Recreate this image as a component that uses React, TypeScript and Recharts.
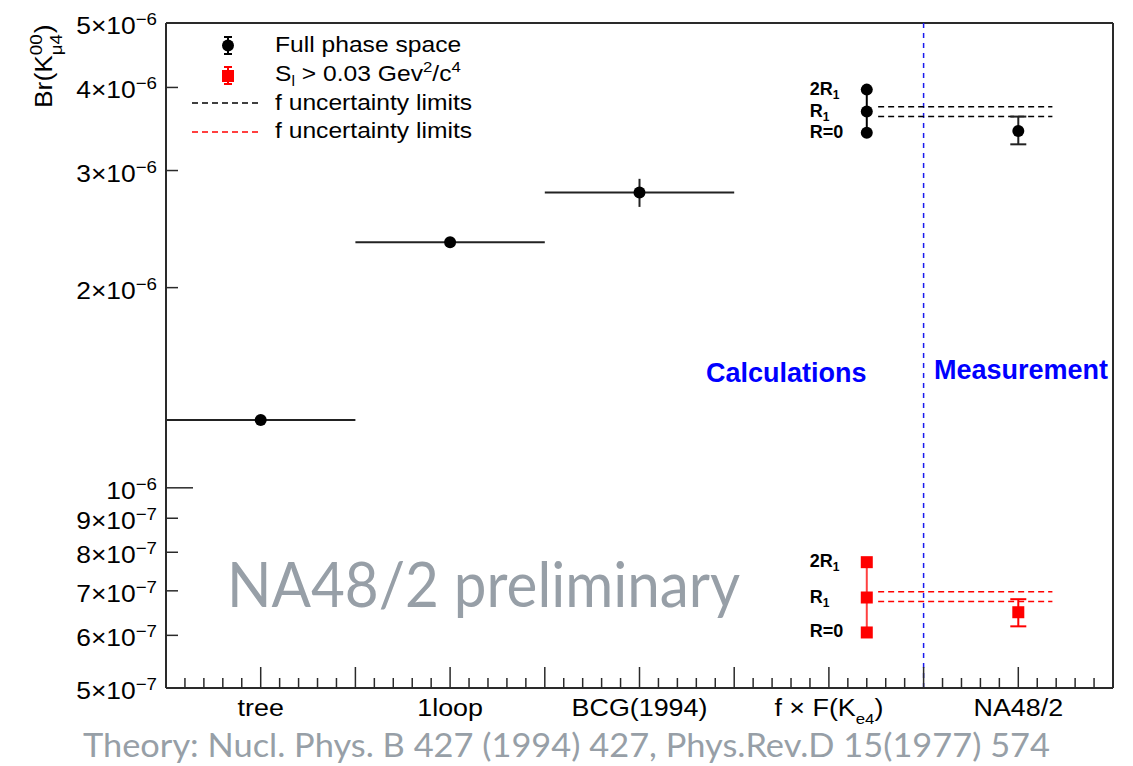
import React from "react";
import { ComposedChart, Scatter, XAxis, YAxis, ErrorBar, ReferenceLine } from "recharts";

// categories along the x axis (bin centres)
const categoryX = [0.5, 1.5, 2.5, 3.5, 4.5];
const categoryNames = ["tree", "1loop", "BCG(1994)", "f \u00d7 F(K", "NA48/2"];
const categorySubs = ["", "", "", "e4", ""];
const categoryTails = ["", "", "", ")", ""];

// theory calculations, full phase space
const theoryPoints = [
  { x: 0.5, y: 1.265e-6, ex: 0.5, ey: 0 },
  { x: 1.5, y: 2.34e-6, ex: 0.5, ey: 0 },
  { x: 2.5, y: 2.78e-6, ex: 0.5, ey: 0.135e-6 },
];

// f x F(Ke4) for three R values
const fullPhaseF = [
  { x: 3.7, y: 3.97e-6, label: "2R", sub: "1" },
  { x: 3.7, y: 3.68e-6, label: "R", sub: "1" },
  { x: 3.7, y: 3.42e-6, label: "R=0", sub: "" },
];
const cutF = [
  { x: 3.7, y: 7.73e-7, label: "2R", sub: "1" },
  { x: 3.7, y: 6.84e-7, label: "R", sub: "1" },
  { x: 3.7, y: 6.06e-7, label: "R=0", sub: "" },
];

// NA48/2 measurement
const fullPhaseMeas = [{ x: 4.5, y: 3.44e-6, ey: [0.155e-6, 0.176e-6] }];
const cutMeas = [{ x: 4.5, y: 6.5e-7, ey: [0.31e-7, 0.3e-7] }];

// f uncertainty limits
const fullPhaseLimits = [3.742e-6, 3.616e-6];
const cutLimits = [6.98e-7, 6.745e-7];
const limitFrom = 3.76;
const limitTo = 4.68;
const splitX = 4;

const yTicks = [5e-7, 6e-7, 7e-7, 8e-7, 9e-7, 1e-6, 2e-6, 3e-6, 4e-6, 5e-6];
const yTickMantissa = ["5\u00d7", "6\u00d7", "7\u00d7", "8\u00d7", "9\u00d7", "", "2\u00d7", "3\u00d7", "4\u00d7", "5\u00d7"];
const yTickExponent = ["\u22127", "\u22127", "\u22127", "\u22127", "\u22127", "\u22126", "\u22126", "\u22126", "\u22126", "\u22126"];

const xTicks: number[] = [];
for (let i = 1; i < 50; i++) xTicks.push(i / 10);

const rootFont = "'Liberation Sans', Arial, Helvetica, sans-serif";
const grayFont = "Lato, 'Open Sans', sans-serif";
const gray = "#979fa7";
const frame = "#2a2a2a";

const Stretch = ({ x, y, s = 1.12, children }: any) => (
  <g transform={`translate(${x},${y}) scale(${s},1)`}>{children}</g>
);

const XTick = (props: any) => {
  const { x, y, payload } = props;
  const v = payload.value;
  const major = Math.abs(v * 2 - Math.round(v * 2)) < 1e-6;
  const idx = categoryX.findIndex((c) => Math.abs(c - v) < 1e-6);
  return (
    <g>
      <line x1={x} x2={x} y1={y} y2={y - (major ? 21 : 10)} stroke={frame} strokeWidth={1.5} />
      {idx >= 0 && (
        <Stretch x={x} y={y + 28}>
          <text x={0} y={0} textAnchor="middle" fontSize={24} fontFamily={rootFont} fill="#000">
            {categoryNames[idx]}
            {categorySubs[idx] && (
              <tspan dy={8} fontSize={15}>
                {categorySubs[idx]}
              </tspan>
            )}
            {categoryTails[idx] && (
              <tspan dy={-8} fontSize={24}>
                {categoryTails[idx]}
              </tspan>
            )}
          </text>
        </Stretch>
      )}
    </g>
  );
};

const YTick = (props: any) => {
  const { x, y, payload } = props;
  const i = yTicks.findIndex((t) => Math.abs(t - payload.value) / t < 1e-6);
  const len = payload.value === 1e-6 ? 27 : 12;
  const edge = i === 0 || i === yTicks.length - 1;
  return (
    <g>
      {!edge && <line x1={x} x2={x + len} y1={y} y2={y} stroke={frame} strokeWidth={1.5} />}
      <Stretch x={x - 9} y={y + 11} s={1.1}>
        <text x={0} y={0} textAnchor="end" fontSize={24} fontFamily={rootFont} fill="#000">
          {i >= 0 ? yTickMantissa[i] : ""}10
          <tspan dy={-9} fontSize={17}>
            {i >= 0 ? yTickExponent[i] : ""}
          </tspan>
        </text>
      </Stretch>
    </g>
  );
};

const circleShape = (p: any) => <circle cx={p.cx} cy={p.cy} r={6} fill="#000" />;
const squareShape = (p: any) => <rect x={p.cx - 6} y={p.cy - 6} width={12} height={12} fill="#ff0000" />;

const labelled = (base: (p: any) => any) => (p: any) => (
  <g>
    {base(p)}
    <text x={p.cx - 57} y={p.cy + 5} fontSize={18} fontWeight="bold" fontFamily={rootFont} fill="#000">
      {p.payload.label}
      {p.payload.sub && (
        <tspan dy={4} fontSize={12}>
          {p.payload.sub}
        </tspan>
      )}
    </text>
  </g>
);

const Overlay = () => (
  <svg
    width={1133}
    height={766}
    style={{ position: "absolute", left: 0, top: 0, pointerEvents: "none" }}
  >
    {/* y axis title */}
    <g transform="translate(52,108) rotate(-90) scale(1.1,1)">
      <text x={0} y={0} fontSize={24} fontFamily={rootFont} fill="#000">Br(K</text>
      <text x={48} y={-10} fontSize={17} fontFamily={rootFont} fill="#000">00</text>
      <text x={48} y={10} fontSize={17} fontFamily={rootFont} fill="#000">{"\u03bc4"}</text>
      <text x={68} y={0} fontSize={24} fontFamily={rootFont} fill="#000">)</text>
    </g>

    {/* legend */}
    <line x1={228} x2={228} y1={37} y2={54} stroke="#000" strokeWidth={2} />
    <line x1={224} x2={232} y1={37} y2={37} stroke="#000" strokeWidth={2} />
    <line x1={224} x2={232} y1={54} y2={54} stroke="#000" strokeWidth={2} />
    <circle cx={228} cy={45.5} r={6} fill="#000" />
    <line x1={228} x2={228} y1={67} y2={84} stroke="#ff0000" strokeWidth={2} />
    <line x1={224} x2={232} y1={67} y2={67} stroke="#ff0000" strokeWidth={2} />
    <line x1={224} x2={232} y1={84} y2={84} stroke="#ff0000" strokeWidth={2} />
    <rect x={222} y={70} width={12} height={12} fill="#ff0000" />
    <line x1={192} x2={258} y1={103} y2={103} stroke="#000" strokeWidth={1.5} strokeDasharray="6 4" />
    <line x1={192} x2={258} y1={132} y2={132} stroke="#ff0000" strokeWidth={1.5} strokeDasharray="6 4" />
    <Stretch x={275} y={52}>
      <text fontSize={22} fontFamily={rootFont} fill="#000">Full phase space</text>
    </Stretch>
    <Stretch x={275} y={81}>
      <text fontSize={22} fontFamily={rootFont} fill="#000">
        S<tspan dy={5} fontSize={14}>l</tspan>
        <tspan dy={-5}> {"> 0.03 Gev"}</tspan>
        <tspan dy={-9} fontSize={15}>2</tspan>
        <tspan dy={9}>/c</tspan>
        <tspan dy={-9} fontSize={15}>4</tspan>
      </text>
    </Stretch>
    <Stretch x={275} y={110}>
      <text fontSize={22} fontFamily={rootFont} fill="#000">f uncertainty limits</text>
    </Stretch>
    <Stretch x={275} y={138}>
      <text fontSize={22} fontFamily={rootFont} fill="#000">f uncertainty limits</text>
    </Stretch>

    {/* region captions */}
    <text x={706} y={382} fontSize={27} fontWeight="bold" fontFamily={rootFont} fill="#0000ff">
      Calculations
    </text>
    <text x={934} y={379} fontSize={27} fontWeight="bold" fontFamily={rootFont} fill="#0000ff">
      Measurement
    </text>

    {/* watermark and reference */}
    <text x={227} y={607} fontSize={62} fontFamily={grayFont} fill={gray} textLength={513} lengthAdjust="spacingAndGlyphs">
      NA48/2 preliminary
    </text>
    <text x={83} y={757} fontSize={33} fontFamily={grayFont} fill={gray} textLength={967} lengthAdjust="spacingAndGlyphs">
      Theory: Nucl. Phys. B 427 (1994) 427, Phys.Rev.D 15(1977) 574
    </text>
  </svg>
);

export default function App() {
  return (
    <div style={{ position: "relative", width: 1133, height: 766, background: "#fff" }}>
      <style>{`body{margin:0;overflow:hidden}`}</style>
      <ComposedChart width={1133} height={766} margin={{ top: 23, right: 20, left: 8, bottom: 8 }}>
        <XAxis
          dataKey="x"
          type="number"
          domain={[0, 5]}
          ticks={xTicks}
          interval={0}
          tickSize={0}
          tickMargin={0}
          tickLine={false}
          height={70}
          axisLine={{ stroke: frame, strokeWidth: 2 }}
          tick={(p: any) => <XTick {...p} />}
          allowDataOverflow
        />
        <YAxis
          dataKey="y"
          type="number"
          scale="log"
          domain={[5e-7, 5e-6]}
          ticks={yTicks}
          interval={0}
          tickSize={0}
          tickMargin={0}
          tickLine={false}
          width={158}
          axisLine={{ stroke: frame, strokeWidth: 2 }}
          tick={(p: any) => <YTick {...p} />}
          allowDataOverflow
        />
        <ReferenceLine x={5} stroke={frame} strokeWidth={2} />
        <ReferenceLine y={5e-6} stroke={frame} strokeWidth={2} />
        <ReferenceLine x={splitX} stroke="#1a1aee" strokeWidth={1.5} strokeDasharray="5 5" />
        {fullPhaseLimits.map((v) => (
          <ReferenceLine
            key={"b" + v}
            segment={[{ x: limitFrom, y: v }, { x: limitTo, y: v }]}
            stroke="#000"
            strokeWidth={1.5}
            strokeDasharray="6 4"
          />
        ))}
        {cutLimits.map((v) => (
          <ReferenceLine
            key={"r" + v}
            segment={[{ x: limitFrom, y: v }, { x: limitTo, y: v }]}
            stroke="#ff0000"
            strokeWidth={1.5}
            strokeDasharray="6 4"
          />
        ))}
        <Scatter data={theoryPoints} shape={circleShape} isAnimationActive={false}>
          <ErrorBar dataKey="ex" direction="x" width={0} stroke="#222" strokeWidth={2} />
          <ErrorBar dataKey="ey" direction="y" width={0} stroke="#222" strokeWidth={2} />
        </Scatter>
        <Scatter
          data={fullPhaseF}
          shape={labelled(circleShape)}
          line={{ stroke: "#000", strokeWidth: 2 }}
          isAnimationActive={false}
        />
        <Scatter
          data={cutF}
          shape={labelled(squareShape)}
          line={{ stroke: "#ff4040", strokeWidth: 2 }}
          isAnimationActive={false}
        />
        <Scatter data={fullPhaseMeas} shape={circleShape} isAnimationActive={false}>
          <ErrorBar dataKey="ey" direction="y" width={8} stroke="#222" strokeWidth={2} />
        </Scatter>
        <Scatter data={cutMeas} shape={squareShape} isAnimationActive={false}>
          <ErrorBar dataKey="ey" direction="y" width={8} stroke="#ff0000" strokeWidth={2} />
        </Scatter>
      </ComposedChart>
      <Overlay />
    </div>
  );
}
